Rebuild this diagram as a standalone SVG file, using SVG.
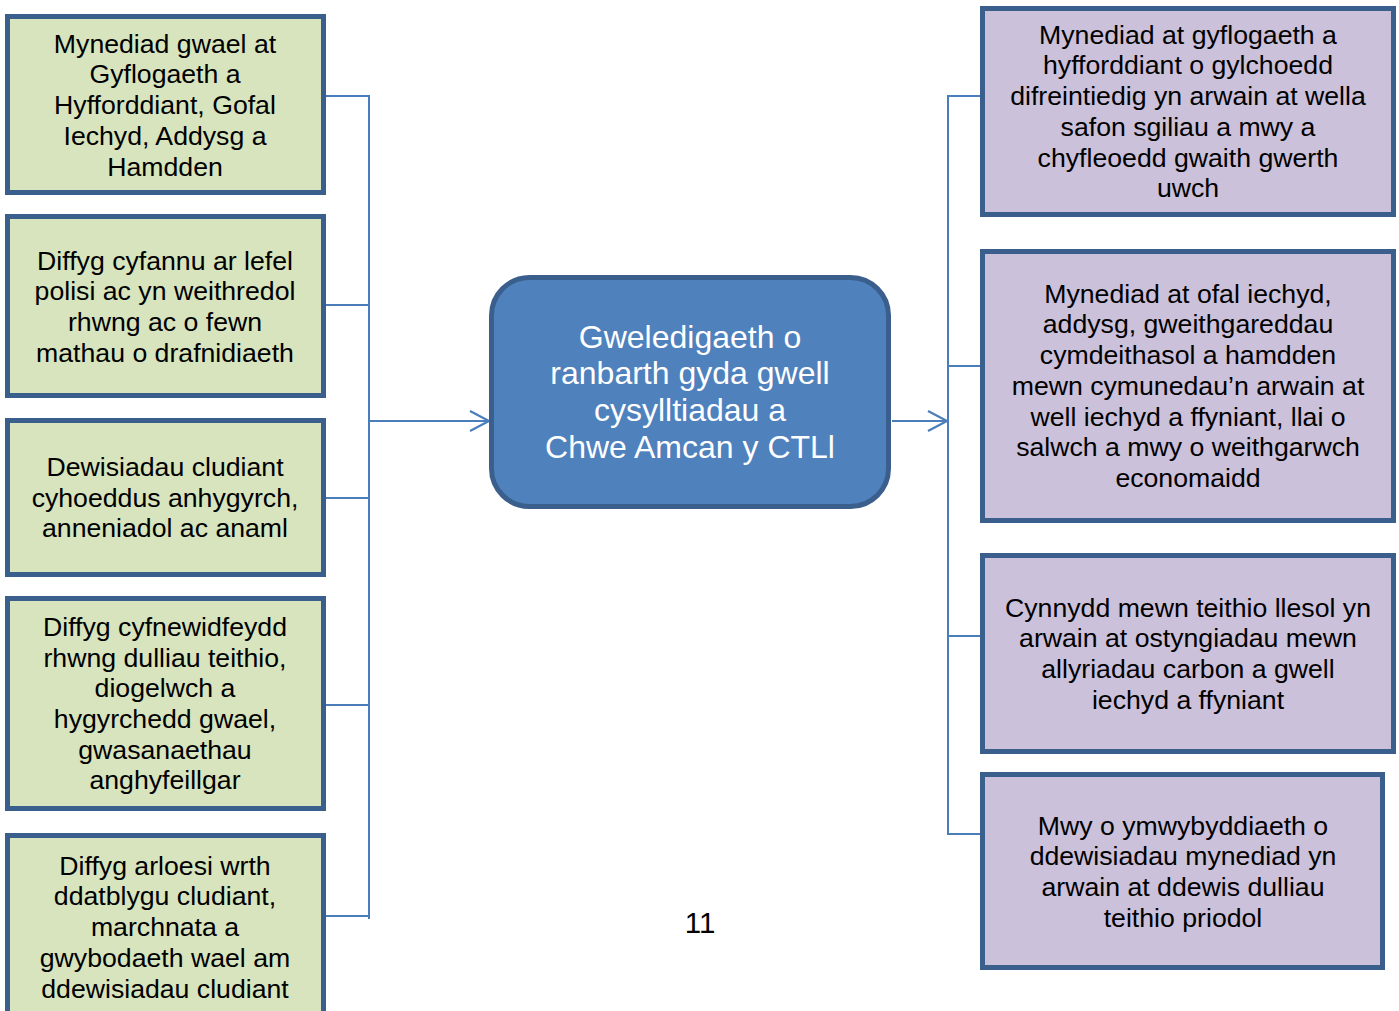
<svg xmlns="http://www.w3.org/2000/svg" width="1399" height="1011" viewBox="0 0 1399 1011">
<style>
.bg{fill:#ffffff}
.lbox{fill:#D7E4BD;stroke:#3B5F8C;stroke-width:5}
.rbox{fill:#CCC1DA;stroke:#3B5F8C;stroke-width:5}
.cbox{fill:#4F81BD;stroke:#3B5F8C;stroke-width:5}
.t{font-family:"Liberation Sans",Arial,sans-serif;font-size:26.67px;fill:#000;text-anchor:middle}
.ct{font-family:"Liberation Sans",Arial,sans-serif;font-size:32px;fill:#fff;text-anchor:middle}
.pn{font-family:"Liberation Sans",Arial,sans-serif;font-size:29.5px;fill:#000;text-anchor:middle}
.con{fill:none;stroke:#4A7EBB;stroke-width:2}
</style>
<defs>
<marker id="arr" markerUnits="userSpaceOnUse" markerWidth="24" markerHeight="24" refX="20" refY="11" orient="auto" viewBox="0 0 24 24">
<path d="M1,1 L20,11 L1,21" fill="none" stroke="#4A7EBB" stroke-width="2.2"/>
</marker>
</defs>
<rect class="bg" x="0" y="0" width="1399" height="1011"/>
<g id="connectors">
<path class="con" d="M326,96 H369 M326,305 H369 M326,498 H369 M326,705 H369 M326,916 H369 M369,95 V919"/>
<path class="con" d="M369,421 H489" marker-end="url(#arr)"/>
<path class="con" d="M892,421 H947" marker-end="url(#arr)"/>
<path class="con" d="M948,95 V835 M948,96 H981 M948,366 H981 M948,636 H981 M948,834 H981"/>
</g>
<g id="left1">
<rect class="lbox" x="7.5" y="16.5" width="316" height="176"/>
<text class="t"><tspan x="165" y="52.7">Mynediad gwael at</tspan><tspan x="165" y="83.4">Gyflogaeth a</tspan><tspan x="165" y="114.1">Hyfforddiant, Gofal</tspan><tspan x="165" y="144.8">Iechyd, Addysg a</tspan><tspan x="165" y="175.5">Hamdden</tspan></text>
</g>
<g id="left2">
<rect class="lbox" x="7.5" y="216.5" width="316" height="179"/>
<text class="t"><tspan x="165" y="269.7">Diffyg cyfannu ar lefel</tspan><tspan x="165" y="300.4">polisi ac yn weithredol</tspan><tspan x="165" y="331.1">rhwng ac o fewn</tspan><tspan x="165" y="361.8">mathau o drafnidiaeth</tspan></text>
</g>
<g id="left3">
<rect class="lbox" x="7.5" y="420.5" width="316" height="154"/>
<text class="t"><tspan x="165" y="475.9">Dewisiadau cludiant</tspan><tspan x="165" y="506.6">cyhoeddus anhygyrch,</tspan><tspan x="165" y="537.3">anneniadol ac anaml</tspan></text>
</g>
<g id="left4">
<rect class="lbox" x="7.5" y="598.5" width="316" height="210"/>
<text class="t"><tspan x="165" y="635.9">Diffyg cyfnewidfeydd</tspan><tspan x="165" y="666.6">rhwng dulliau teithio,</tspan><tspan x="165" y="697.3">diogelwch a</tspan><tspan x="165" y="728">hygyrchedd gwael,</tspan><tspan x="165" y="758.7">gwasanaethau</tspan><tspan x="165" y="789.4">anghyfeillgar</tspan></text>
</g>
<g id="left5">
<rect class="lbox" x="7.5" y="835.5" width="316" height="200"/>
<text class="t"><tspan x="165" y="874.7">Diffyg arloesi wrth</tspan><tspan x="165" y="905.4">ddatblygu cludiant,</tspan><tspan x="165" y="936.1">marchnata a</tspan><tspan x="165" y="966.8">gwybodaeth wael am</tspan><tspan x="165" y="997.5">ddewisiadau cludiant</tspan></text>
</g>
<g id="center">
<rect class="cbox" x="491.5" y="277.5" width="397" height="229" rx="38" ry="38"/>
<text class="ct"><tspan x="690" y="347.6">Gweledigaeth o</tspan><tspan x="690" y="384.4">ranbarth gyda gwell</tspan><tspan x="690" y="421.2">cysylltiadau a</tspan><tspan x="690" y="458">Chwe Amcan y CTLl</tspan></text>
</g>
<g id="right1">
<rect class="rbox" x="982.5" y="8.5" width="411" height="206"/>
<text class="t"><tspan x="1188" y="43.7">Mynediad at gyflogaeth a</tspan><tspan x="1188" y="74.4">hyfforddiant o gylchoedd</tspan><tspan x="1188" y="105.1">difreintiedig yn arwain at wella</tspan><tspan x="1188" y="135.8">safon sgiliau a mwy a</tspan><tspan x="1188" y="166.5">chyfleoedd gwaith gwerth</tspan><tspan x="1188" y="197.2">uwch</tspan></text>
</g>
<g id="right2">
<rect class="rbox" x="982.5" y="251.5" width="411" height="269"/>
<text class="t"><tspan x="1188" y="302.7">Mynediad at ofal iechyd,</tspan><tspan x="1188" y="333.4">addysg, gweithgareddau</tspan><tspan x="1188" y="364.1">cymdeithasol a hamdden</tspan><tspan x="1188" y="394.8">mewn cymunedau’n arwain at</tspan><tspan x="1188" y="425.5">well iechyd a ffyniant, llai o</tspan><tspan x="1188" y="456.2">salwch a mwy o weithgarwch</tspan><tspan x="1188" y="486.9">economaidd</tspan></text>
</g>
<g id="right3">
<rect class="rbox" x="982.5" y="555.5" width="411" height="196"/>
<text class="t"><tspan x="1188" y="616.7">Cynnydd mewn teithio llesol yn</tspan><tspan x="1188" y="647.4">arwain at ostyngiadau mewn</tspan><tspan x="1188" y="678.1">allyriadau carbon a gwell</tspan><tspan x="1188" y="708.8">iechyd a ffyniant</tspan></text>
</g>
<g id="right4">
<rect class="rbox" x="982.5" y="774.5" width="400" height="193"/>
<text class="t"><tspan x="1183" y="834.7">Mwy o ymwybyddiaeth o</tspan><tspan x="1183" y="865.4">ddewisiadau mynediad yn</tspan><tspan x="1183" y="896.1">arwain at ddewis dulliau</tspan><tspan x="1183" y="926.8">teithio priodol</tspan></text>
</g>
<text id="page-number" class="pn" x="700" y="932.7">11</text>
</svg>
